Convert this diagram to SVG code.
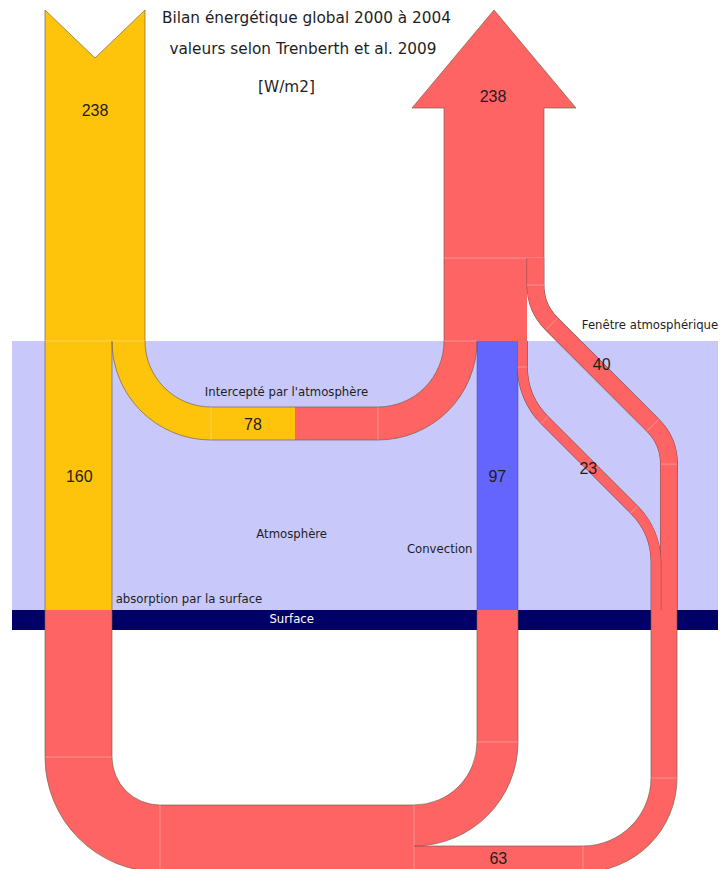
<svg xmlns="http://www.w3.org/2000/svg" width="720" height="869" viewBox="0 0 720 869">
<style>
.yel{fill:#fec40c}
.red{fill:#ff6464}
.blu{fill:#6464ff}
.edge{fill:none;stroke:#6e5a40;stroke-width:0.8;stroke-opacity:0.8}
.bedge{fill:none;stroke:#4040a0;stroke-width:0.8;stroke-opacity:0.6}
.seam{fill:none;stroke:#ffffff;stroke-width:1;stroke-opacity:0.3}
.under{fill:none;stroke:#7a4a4a;stroke-width:11}
.t{font-family:"DejaVu Sans",Verdana,sans-serif;fill:#1e1e1e;text-anchor:middle}
.title{font-size:15.3px}
.lab{font-size:11.7px}
.num{font-family:"Liberation Sans",Arial,sans-serif;font-size:16px;fill:#1e1e1e;text-anchor:middle}
</style>
<rect x="0" y="0" width="720" height="869" fill="#ffffff"/>
<g id="atmosphere">
<rect x="12" y="341" width="706" height="269" fill="#c8c8fb"/>
<text class="t lab" x="291.7" y="538.3">Atmosphère</text>
</g>
<g id="surface">
<rect x="12" y="610" width="706" height="20" fill="#000066"/>
</g>
<g id="connectors">
<g id="solar-in">
<path class="yel" d="M45,10 L95,58 L145,10 L145,341 L45,341 Z"/>
<rect class="yel" x="45" y="341" width="67" height="269"/>
<path class="yel" d="M112,341 A99,99 0 0 0 211,440 L295,440 L295,407 L211,407 A66,66 0 0 1 145,341 Z"/>
<path class="edge" d="M45,610 L45,10 L95,58 L145,10 L145,341 A66,66 0 0 0 211,407 L295,407 M112,610 L112,341 A99,99 0 0 0 211,440 L295,440"/>
<path class="seam" d="M45,341 H145 M211,407 V440"/>
</g>
<g id="atm-out">
<path class="red" d="M295,407 L378,407 A66,66 0 0 0 444,341 L477,341 A99,99 0 0 1 378,440 L295,440 Z"/>
<path class="edge" d="M295,407 L378,407 A66,66 0 0 0 444,341 M295,440 L378,440 A99,99 0 0 0 477,341"/>
<path class="seam" d="M378,407 V440"/>
</g>
<g id="out-arrow">
<path class="red" d="M444,341 L444,108 L412,108 L494,10 L576,108 L544,108 L544,258 L527,258 L527,341 Z"/>
<path class="edge" d="M444,341 L444,108 L412,108 L494,10 L576,108 L544,108 L544,258"/>
<path class="seam" d="M444,258 H544 M444,341 H477"/>
</g>
<g id="convection">
<rect class="blu" x="477" y="341" width="41" height="269"/>
<path class="bedge" d="M477,341 V610 M518,341 V610"/>
</g>
<g id="window-40">
<path class="under" style="stroke-width:17.8" d="M535.5,258 L535.5,285 A55,55 0 0 0 551.6,323.9 L652.9,425.2 A55,55 0 0 1 669,464.1 L669,610"/>
<path fill="none" stroke="#ff6464" stroke-width="16.8" d="M535.5,258 L535.5,285 A55,55 0 0 0 551.6,323.9 L652.9,425.2 A55,55 0 0 1 669,464.1 L669,610"/>
<path class="seam" d="M527,285 H544 M545.7,329.8 L557.5,318 M646.9,431.1 L658.8,419.3 M661,464.1 H677"/>
</g>
<g id="flow-23">
<path class="under" style="stroke-width:10.7" d="M522.5,341 L522.5,367 A75,75 0 0 0 544.5,420 L634,509.5 A75,75 0 0 1 656,562.5 L656,610"/>
<path fill="none" stroke="#ff6464" stroke-width="9.7" d="M522.5,341 L522.5,367 A75,75 0 0 0 544.5,420 L634,509.5 A75,75 0 0 1 656,562.5 L656,610"/>
<path class="seam" d="M517.7,367 H527.3 M541,423.4 L548,416.5 M630.6,513 L637.4,506.1"/>
</g>
<g id="surface-out">
<path class="red" d="M45,610 L112,610 L112,757 A48,48 0 0 0 160,805 L414,805 A63,63 0 0 0 477,742 L477,610 L518,610 L518,742 A104,104 0 0 1 414,846 L583,846 A68,68 0 0 0 651,778 L651,610 L677,610 L677,778 A94,94 0 0 1 583,872 L160,872 A115,115 0 0 1 45,757 Z"/>
<path class="edge" d="M45,610 L45,757 A115,115 0 0 0 160,872 L583,872 A94,94 0 0 0 677,778 L677,610 M112,610 L112,757 A48,48 0 0 0 160,805 L414,805 A63,63 0 0 0 477,742 L477,610 M518,610 L518,742 A104,104 0 0 1 414,846 L583,846 A68,68 0 0 0 651,778 L651,610"/>
<path class="seam" d="M45,757 H112 M160,805 V872 M414,805 V872 M583,846 V872 M477,742 H518 M651,778 H677"/>
</g>
</g>
<g id="labels">
<text class="t title" x="306.5" y="23">Bilan énergétique global 2000 à 2004</text>
<text class="t title" x="303" y="54">valeurs selon Trenberth et al. 2009</text>
<text class="t title" x="286.5" y="92">[W/m2]</text>
<text class="num" x="95" y="115.5">238</text>
<text class="num" x="493" y="102">238</text>
<text class="t lab" x="286.5" y="396">Intercepté par l'atmosphère</text>
<text class="num" x="253" y="430">78</text>
<text class="num" x="79.3" y="481.5">160</text>
<text class="num" x="497.3" y="481.5">97</text>
<text class="num" x="601.7" y="369.5">40</text>
<text class="num" x="588.3" y="474">23</text>
<text class="num" x="498.3" y="864">63</text>
<text class="t lab" x="650" y="329.3">Fenêtre atmosphérique</text>
<text class="t lab" x="439.7" y="552.7">Convection</text>
<text class="t lab" x="189" y="603.3">absorption par la surface</text>
<text class="t lab" x="291.7" y="623.3" style="fill:#ffffff">Surface</text>
</g>
</svg>
